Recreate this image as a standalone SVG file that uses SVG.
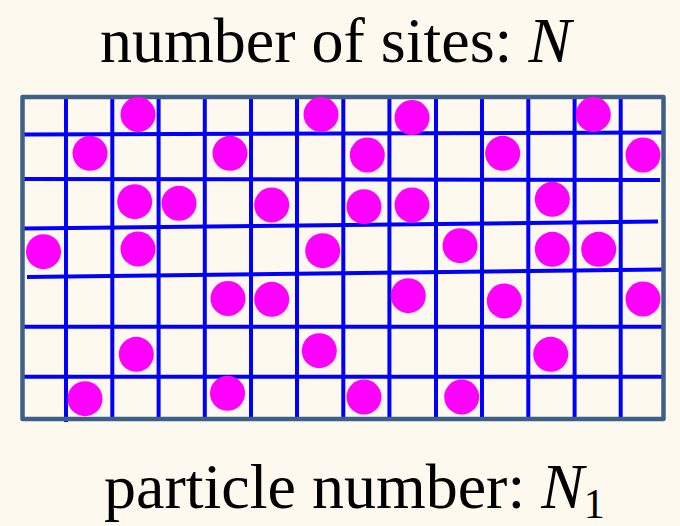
<svg xmlns="http://www.w3.org/2000/svg" width="680" height="526" viewBox="0 0 680 526">
<style>
.bg{fill:#fef9ef}
.frame{fill:none;stroke:#3e5f88;stroke-width:4.5;stroke-linejoin:round}
.g line{stroke:#0000ff;stroke-width:4}
.p circle{fill:#ff00ff}
.t{font-family:"Liberation Serif","Times New Roman",serif;font-size:64px;fill:#000}
.i{font-style:italic}
</style>
<rect class="bg" x="0" y="0" width="680" height="526"/>
<g id="title"><text class="t" x="100" y="62">number of sites: <tspan class="i">N</tspan></text></g>
<g id="lattice" class="g">
<line x1="66" y1="97" x2="66" y2="422"/>
<line x1="112.3" y1="97" x2="112.3" y2="420"/>
<line x1="158.6" y1="97" x2="158.6" y2="420"/>
<line x1="204.8" y1="97" x2="204.8" y2="420"/>
<line x1="251" y1="97" x2="251" y2="420"/>
<line x1="297" y1="97" x2="297" y2="420"/>
<line x1="343.3" y1="97" x2="343.3" y2="420"/>
<line x1="389.4" y1="97" x2="389.4" y2="420"/>
<line x1="436" y1="97" x2="436" y2="420"/>
<line x1="482" y1="97" x2="482" y2="420"/>
<line x1="528.3" y1="97" x2="528.3" y2="420"/>
<line x1="574.6" y1="97" x2="574.6" y2="420"/>
<line x1="620.7" y1="97" x2="620.7" y2="420"/>
<line x1="23" y1="134.5" x2="662" y2="132.5"/>
<line x1="21" y1="179" x2="660" y2="180"/>
<line x1="24" y1="228.5" x2="658" y2="221.5"/>
<line x1="27" y1="277" x2="662" y2="269.5"/>
<line x1="22" y1="326.7" x2="665" y2="326.7"/>
<line x1="24" y1="376.7" x2="663" y2="376.7"/>
</g>
<g id="frame"><rect class="frame" x="22.5" y="97" width="641" height="322"/></g>
<g id="particles" class="p">
<circle cx="138" cy="114.5" r="17.5"/>
<circle cx="321" cy="114.5" r="17.5"/>
<circle cx="412" cy="117.5" r="17.5"/>
<circle cx="593.3" cy="114.5" r="17.5"/>
<circle cx="90" cy="153.3" r="17.5"/>
<circle cx="230" cy="153.3" r="17.5"/>
<circle cx="367.3" cy="155" r="17.5"/>
<circle cx="502.7" cy="153.3" r="17.5"/>
<circle cx="643" cy="155" r="17.5"/>
<circle cx="134.7" cy="201.7" r="17.5"/>
<circle cx="179" cy="203.3" r="17.5"/>
<circle cx="271.7" cy="205" r="17.5"/>
<circle cx="364" cy="206.7" r="17.5"/>
<circle cx="412" cy="205" r="17.5"/>
<circle cx="552.3" cy="199.3" r="17.5"/>
<circle cx="43.5" cy="251.7" r="17.5"/>
<circle cx="138" cy="249" r="17.5"/>
<circle cx="322.7" cy="250.7" r="17.5"/>
<circle cx="460" cy="245.7" r="17.5"/>
<circle cx="552.3" cy="249.3" r="17.5"/>
<circle cx="598.7" cy="249.3" r="17.5"/>
<circle cx="228" cy="298.5" r="17.5"/>
<circle cx="271.7" cy="299.3" r="17.5"/>
<circle cx="408.3" cy="295.7" r="17.5"/>
<circle cx="504.3" cy="301" r="17.5"/>
<circle cx="643" cy="299" r="17.5"/>
<circle cx="136.3" cy="354.3" r="17.5"/>
<circle cx="319.3" cy="350.7" r="17.5"/>
<circle cx="550.7" cy="354.3" r="17.5"/>
<circle cx="85" cy="398.7" r="17.5"/>
<circle cx="227.5" cy="393.3" r="17.5"/>
<circle cx="364" cy="397" r="17.5"/>
<circle cx="461.7" cy="397" r="17.5"/>
</g>
<g id="caption"><text class="t" x="104" y="508">particle number: <tspan class="i">N</tspan><tspan font-size="42" dy="10">1</tspan></text></g>
</svg>
